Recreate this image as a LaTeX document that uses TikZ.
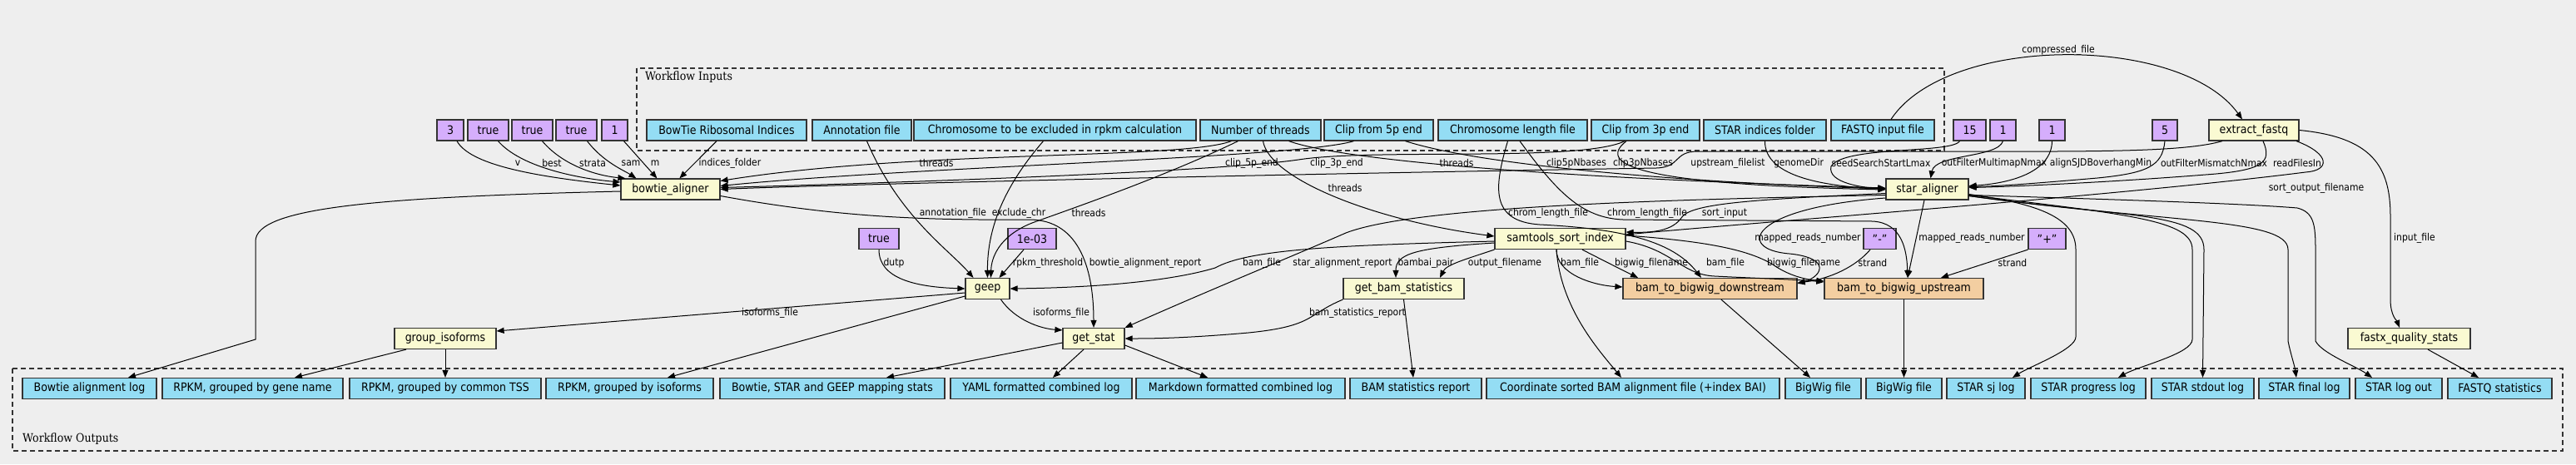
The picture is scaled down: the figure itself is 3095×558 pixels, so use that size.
\documentclass[tikz,border=0pt]{standalone}
\usepackage{fontspec}
\setmainfont{DejaVu Sans Condensed}
\newfontfamily\wftitle{DejaVu Serif Condensed}
\usetikzlibrary{arrows.meta}
\definecolor{canvas}{HTML}{EEEEEE}
\definecolor{inblue}{HTML}{94DDF4}
\definecolor{parpurple}{HTML}{D5AEFC}
\definecolor{stepyellow}{HTML}{FAFAD2}
\definecolor{subpeach}{HTML}{F3CEA1}
\newcommand{\wfnode}{\fontsize{14}{16}\selectfont}
\newcommand{\wflabel}{\fontsize{12}{14}\selectfont}

\begin{document}
\begin{tikzpicture}[
    x=1pt, y=1pt,
    box/.style={draw=black!80, line width=1.2pt, minimum height=25pt, inner sep=0pt, font=\wfnode},
    inbox/.style={box, fill=inblue},
    outbox/.style={box, fill=inblue},
    parbox/.style={box, fill=parpurple},
    stepbox/.style={box, fill=stepyellow},
    subbox/.style={box, fill=subpeach},
    lbl/.style={inner sep=0pt, font=\wflabel},
    flow/.style={draw, line width=1pt, -{Triangle[length=9pt,width=7pt]}},
    group/.style={draw=black!80, dashed, dash pattern=on 6pt off 4pt, line width=1.2pt}
  ]

\fill[canvas] (0,0) rectangle (3095,-558);
\useasboundingbox (0,0) rectangle (3095,-558);

% Workflow Inputs / Outputs clusters
\draw[group] (765,-82) rectangle (2336,-181);
\node[anchor=west, inner sep=0pt, font=\wftitle\fontsize{14}{16}\selectfont] (tin) at (775,-93) {Workflow Inputs};
\draw[group] (15,-443) rectangle (3079,-542);
\node[anchor=west, inner sep=0pt, font=\wftitle\fontsize{14}{16}\selectfont] (tout) at (27,-528) {Workflow Outputs};

% top row
\node[parbox, minimum width=32pt] (pv) at (541,-156.5) {3};
\node[parbox, minimum width=49pt] (pbest) at (586.5,-156.5) {true};
\node[parbox, minimum width=49pt] (pstrata) at (639.5,-156.5) {true};
\node[parbox, minimum width=49pt] (psam) at (692.5,-156.5) {true};
\node[parbox, minimum width=31pt] (pm) at (738.5,-156.5) {1};
\node[inbox, minimum width=192pt] (bri) at (873,-156.5) {BowTie Ribosomal Indices};
\node[inbox, minimum width=119pt] (ann) at (1035.5,-156.5) {Annotation file};
\node[inbox, minimum width=339pt] (exc) at (1267.5,-156.5) {Chromosome to be excluded in rpkm calculation};
\node[inbox, minimum width=145pt] (thr) at (1514.5,-156.5) {Number of threads};
\node[inbox, minimum width=131pt] (c5) at (1656.5,-156.5) {Clip from 5p end};
\node[inbox, minimum width=179pt] (chr) at (1817.5,-156.5) {Chromosome length file};
\node[inbox, minimum width=130pt] (c3) at (1977,-156.5) {Clip from 3p end};
\node[inbox, minimum width=147pt] (sid) at (2120.5,-156.5) {STAR indices folder};
\node[inbox, minimum width=124pt] (fq) at (2262,-156.5) {FASTQ input file};
\node[parbox, minimum width=39pt] (pseed) at (2366.5,-156.5) {15};
\node[parbox, minimum width=31pt] (pmulti) at (2406.5,-156.5) {1};
\node[parbox, minimum width=31pt] (psjdb) at (2465.5,-156.5) {1};
\node[parbox, minimum width=30pt] (pmis) at (2601,-156.5) {5};
\node[stepbox, minimum width=108pt] (ext) at (2708,-156.5) {extract\_fastq};

% steps
\node[stepbox, minimum width=119pt] (bowtie) at (805.5,-227.5) {bowtie\_aligner};
\node[stepbox, minimum width=99pt] (star) at (2315.5,-227.5) {star\_aligner};
\node[parbox, minimum width=48pt] (pdutp) at (1056,-287) {true};
\node[parbox, minimum width=58pt] (prpkm) at (1240,-287) {1e-03};
\node[stepbox, minimum width=157pt] (sam) at (1874.5,-287) {samtools\_sort\_index};
\node[parbox, minimum width=39pt] (pminus) at (2258.5,-287) {"-"};
\node[parbox, minimum width=45pt] (pplus) at (2459.5,-287) {"+"};
\node[stepbox, minimum width=53pt] (geep) at (1186.5,-347) {geep};
\node[stepbox, minimum width=145pt] (gbs) at (1686.5,-347) {get\_bam\_statistics};
\node[subbox, minimum width=209pt] (b2bd) at (2054.5,-347) {bam\_to\_bigwig\_downstream};
\node[subbox, minimum width=191pt] (b2bu) at (2287.5,-347) {bam\_to\_bigwig\_upstream};
\node[stepbox, minimum width=122pt] (grp) at (535,-407) {group\_isoforms};
\node[stepbox, minimum width=74pt] (gst) at (1314,-407) {get\_stat};
\node[stepbox, minimum width=147pt] (fastx) at (2894.5,-407) {fastx\_quality\_stats};

% outputs
\node[outbox, minimum width=161pt] (o1) at (107.5,-467) {Bowtie alignment log};
\node[outbox, minimum width=217pt] (o2) at (303.5,-467) {RPKM, grouped by gene name};
\node[outbox, minimum width=230pt] (o3) at (535,-467) {RPKM, grouped by common TSS};
\node[outbox, minimum width=201pt] (o4) at (756.5,-467) {RPKM, grouped by isoforms};
\node[outbox, minimum width=270pt] (o5) at (1000,-467) {Bowtie, STAR and GEEP mapping stats};
\node[outbox, minimum width=218pt] (o6) at (1251,-467) {YAML formatted combined log};
\node[outbox, minimum width=251pt] (o7) at (1490.5,-467) {Markdown formatted combined log};
\node[outbox, minimum width=158pt] (o8) at (1701,-467) {BAM statistics report};
\node[outbox, minimum width=352pt] (o9) at (1962,-467) {Coordinate sorted BAM alignment file (+index BAI)};
\node[outbox, minimum width=91pt] (o10) at (2190.5,-467) {BigWig file};
\node[outbox, minimum width=91pt] (o11) at (2287.5,-467) {BigWig file};
\node[outbox, minimum width=94pt] (o12) at (2386,-467) {STAR sj log};
\node[outbox, minimum width=138pt] (o13) at (2509,-467) {STAR progress log};
\node[outbox, minimum width=123pt] (o14) at (2646.5,-467) {STAR stdout log};
\node[outbox, minimum width=109pt] (o15) at (2768.5,-467) {STAR final log};
\node[outbox, minimum width=104pt] (o16) at (2882,-467) {STAR log out};
\node[outbox, minimum width=125pt] (o17) at (3003.5,-467) {FASTQ statistics};

% bowtie_aligner inputs
\draw[flow] ([xshift=8pt]pv.south) .. controls (565,-198) and (640,-212) .. ([yshift=4.5pt]bowtie.west);
\draw[flow] ([xshift=12pt]pbest.south) .. controls (625,-200) and (690,-214) .. ([yshift=8.5pt]bowtie.west);
\draw[flow] ([xshift=12pt]pstrata.south) .. controls (680,-203) and (725,-212) .. ([xshift=6pt]bowtie.north west);
\draw[flow] ([xshift=13pt]psam.south) .. controls (725,-195) and (750,-205) .. ([xshift=19pt]bowtie.north west);
\draw[flow] ([xshift=11pt]pm.south) -- ([xshift=44pt]bowtie.north west);
\draw[flow] ([xshift=-12pt]bri.south) -- ([xshift=71pt]bowtie.north west);
\draw[flow] ([xshift=-35pt]thr.south) .. controls (1420,-192) and (1100,-180) .. ([yshift=10pt]bowtie.east);
\draw[flow] ([xshift=-30pt]c5.south) .. controls (1560,-190) and (1100,-200) .. ([yshift=4pt]bowtie.east);
\draw[flow] ([xshift=-25pt]c3.south) .. controls (1900,-195) and (1650,-178) .. (1560,-192) .. controls (1450,-208) and (1000,-222) .. ([yshift=2pt]bowtie.east);
\draw[flow] ([xshift=-38pt]ext.south) .. controls (2620,-184) and (2500,-182) .. (2300,-182) -- (2040,-182) .. controls (2010,-182) and (2020,-201) .. (1990,-202) .. controls (1500,-210) and (1000,-222) .. (bowtie.east);

% star_aligner inputs
\draw[flow] ([xshift=34pt]thr.south) .. controls (1620,-195) and (1900,-215) .. ([yshift=1.5pt]star.west);
\draw[flow] ([xshift=32pt]c5.south) .. controls (1800,-205) and (2100,-222) .. ([yshift=0.5pt]star.west);
\draw[flow] ([xshift=-23pt]c3.south) .. controls (1915,-200) and (1980,-222) .. ([yshift=-0.5pt]star.west);
\draw[flow] (sid.south) .. controls (2120,-215) and (2200,-224) .. (star.west);
\draw[flow] ([xshift=-12pt]pseed.south) .. controls (2345,-185) and (2215,-175) .. (2200,-200) .. controls (2195,-220) and (2240,-226) .. ([yshift=1pt]star.west);
\draw[flow] (pmulti.south) .. controls (2400,-190) and (2325,-185) .. ([xshift=4pt]star.north);
\draw[flow] (psjdb.south) .. controls (2465,-205) and (2420,-220) .. ([yshift=4pt]star.east);
\draw[flow] (pmis.south) .. controls (2598,-200) and (2580,-208) .. (2520,-214) .. controls (2450,-220) and (2400,-224) .. ([yshift=3pt]star.east);
\draw[flow] ([xshift=11pt]ext.south) .. controls (2730,-195) and (2720,-205) .. (2650,-210) .. controls (2550,-218) and (2430,-224) .. ([yshift=2pt]star.east);
\draw[flow] ([xshift=10pt]fq.north) .. controls (2340,-41) and (2620,-41) .. ([xshift=-14pt]ext.north);

% samtools_sort_index inputs
\draw[flow] ([xshift=3pt]thr.south) .. controls (1525,-215) and (1650,-265) .. ([yshift=3pt]sam.west);
\draw[flow] ([yshift=-5pt]star.west) .. controls (2100,-240) and (2030,-245) .. (2020,-262) .. controls (2010,-276) and (1990,-280) .. ([yshift=8pt]sam.east);
\draw[flow] ([xshift=51pt]ext.south) .. controls (2800,-185) and (2800,-205) .. (2770,-207) .. controls (2550,-235) and (2100,-268) .. ([yshift=5pt]sam.east);

% geep inputs
\draw[flow] ([xshift=6pt]ann.south) .. controls (1080,-260) and (1140,-300) .. ([xshift=-17pt]geep.north);
\draw[flow] ([xshift=-14pt]exc.south) .. controls (1210,-220) and (1186,-270) .. (geep.north);
\draw[flow] ([xshift=-27pt]thr.south) .. controls (1400,-212) and (1290,-250) .. (1240,-268) .. controls (1200,-284) and (1191,-310) .. ([xshift=4pt]geep.north);
\draw[flow] (pdutp.south) .. controls (1056,-335) and (1100,-345) .. (geep.west);
\draw[flow] ([xshift=-10pt]prpkm.south) -- ([xshift=14pt]geep.north);
\draw[flow] ([yshift=-3pt]sam.west) .. controls (1600,-295) and (1500,-300) .. (1460,-322) .. controls (1400,-340) and (1300,-346) .. (geep.east);

% get_stat and get_bam_statistics inputs
\draw[flow] ([yshift=-8pt]bowtie.east) .. controls (1000,-260) and (1100,-265) .. (1235,-264) .. controls (1300,-263) and (1314,-330) .. (gst.north);
\draw[flow] ([xshift=16pt]geep.south) .. controls (1220,-385) and (1250,-395) .. ([yshift=-3pt]gst.north west);
\draw[flow] ([yshift=-7pt]star.west) .. controls (2000,-240) and (1700,-248) .. (1617,-280) .. controls (1560,-305) and (1450,-350) .. (gst.north east);
\draw[flow] (gbs.south west) .. controls (1570,-378) and (1580,-392) .. (1500,-400) .. controls (1420,-407) and (1380,-407) .. (gst.east);
\draw[flow] ([yshift=-5pt]sam.west) .. controls (1700,-298) and (1677,-305) .. ([xshift=-9.5pt]gbs.north);
\draw[flow] (sam.south west) .. controls (1760,-312) and (1738,-318) .. ([xshift=43.5pt]gbs.north);

% bam_to_bigwig inputs
\draw[flow] ([xshift=-4.5pt]sam.south) .. controls (1870,-330) and (1915,-343) .. ([yshift=2pt]b2bd.west);
\draw[flow] ([xshift=26.5pt]sam.south) .. controls (1930,-315) and (1950,-325) .. ([xshift=-86.5pt]b2bd.north);
\draw[flow] ([xshift=-6pt]chr.south) .. controls (1795,-225) and (1790,-266) .. (1850,-270) .. controls (1950,-275) and (2010,-290) .. ([xshift=-10.5pt]b2bd.north);
\draw[flow] ([yshift=-10.5pt]star.west) .. controls (2100,-250) and (2085,-300) .. (2150,-305) .. controls (2200,-310) and (2190,-332) .. ([yshift=6pt]b2bd.east);
\draw[flow] ([xshift=-11.5pt]pminus.south) .. controls (2230,-320) and (2200,-335) .. ([yshift=7pt]b2bd.east);
\draw[flow] ([xshift=8.5pt]chr.south) .. controls (1870,-230) and (1900,-262) .. (1950,-264) -- (2250,-266) .. controls (2285,-268) and (2291,-300) .. ([xshift=4.5pt]b2bu.north);
\draw[flow] ([xshift=-3.5pt]star.south) -- ([xshift=4.5pt]b2bu.north);
\draw[flow] ([xshift=-23pt]pplus.south) -- ([xshift=44.5pt]b2bu.north);
\draw[flow] ([yshift=-3pt]sam.east) .. controls (2010,-300) and (2020,-330) .. (2060,-332) .. controls (2120,-335) and (2160,-336) .. ([yshift=8pt]b2bu.west);
\draw[flow] ([yshift=4pt]sam.east) .. controls (2050,-290) and (2100,-300) .. (2130,-318) .. controls (2150,-332) and (2170,-336) .. ([yshift=9pt]b2bu.west);

% fastx_quality_stats input
\draw[flow] (ext.east) .. controls (2850,-165) and (2872,-200) .. (2872,-260) -- (2872,-360) .. controls (2872,-380) and (2880,-386) .. ([xshift=-11.5pt]fastx.north);

% workflow outputs
\draw[flow] ([yshift=-2.5pt]bowtie.west) .. controls (450,-237) and (307,-250) .. (307,-290) -- (307,-408) -- ([xshift=46.5pt]o1.north);
\draw[flow] ([yshift=-5pt]geep.west) -- ([yshift=9pt]grp.east);
\draw[flow] ([xshift=-47pt]grp.south) -- ([xshift=50.5pt]o2.north);
\draw[flow] (grp.south) -- (o3.north);
\draw[flow] ([yshift=-9pt]geep.west) -- ([xshift=45.5pt]o4.north);
\draw[flow] ([yshift=-5pt]gst.west) -- ([xshift=65pt]o5.north);
\draw[flow] ([xshift=-12pt]gst.south) -- ([xshift=14pt]o6.north);
\draw[flow] ([yshift=-8pt]gst.east) -- ([xshift=-39.5pt]o7.north);
\draw[flow] (gbs.south) -- ([xshift=-3pt]o8.north);
\draw[flow] ([xshift=-4.5pt]sam.south) .. controls (1875,-370) and (1920,-420) .. ([xshift=-14pt]o9.north);
\draw[flow] ([xshift=13.5pt]b2bd.south) -- ([xshift=-15.5pt]o10.north);
\draw[flow] (b2bu.south) -- (o11.north);
\draw[flow] ([yshift=-6pt]star.east) .. controls (2450,-245) and (2494,-262) .. (2494,-300) -- (2494,-405) .. controls (2494,-420) and (2440,-440) .. ([xshift=32pt]o12.north);
\draw[flow] ([yshift=-7pt]star.east) .. controls (2560,-258) and (2634,-265) .. (2634,-300) -- (2634,-408) .. controls (2634,-425) and (2570,-440) .. ([xshift=36pt]o13.north);
\draw[flow] ([yshift=-8pt]star.east) .. controls (2560,-262) and (2648,-255) .. (2648,-300) -- (o14.north);
\draw[flow] ([yshift=-8pt]star.east) .. controls (2600,-268) and (2749,-262) .. (2749,-300) -- (2749,-410) .. controls (2752,-425) and (2757,-440) .. ([xshift=-9.5pt]o15.north);
\draw[flow] ([yshift=-7pt]star.east) .. controls (2550,-240) and (2700,-245) .. (2760,-250) .. controls (2780,-255) and (2782,-270) .. (2782,-300) -- (2782,-410) .. controls (2790,-425) and (2830,-440) .. ([xshift=-32pt]o16.north);
\draw[flow] ([xshift=22.5pt]fastx.south) -- ([xshift=-25.5pt]o17.north);

% edge labels
\node[lbl] (l-v) at (622,-196) {v};
\node[lbl] (l-best) at (663,-196) {best};
\node[lbl] (l-strata) at (712,-196) {strata};
\node[lbl] (l-sam) at (758,-196) {sam};
\node[lbl] (l-m) at (787,-196) {m};
\node[lbl] (l-idx) at (877,-196) {indices\_folder};
\node[lbl] (l-bthr) at (1125,-196) {threads};
\node[lbl] (l-bc5) at (1504,-196) {clip\_5p\_end};
\node[lbl] (l-bc3) at (1606,-196) {clip\_3p\_end};
\node[lbl] (l-sthr) at (1750,-196) {threads};
\node[lbl] (l-sc5) at (1894,-196) {clip5pNbases};
\node[lbl] (l-sc3) at (1974,-196) {clip3pNbases};
\node[lbl] (l-up) at (2076,-196) {upstream\_filelist};
\node[lbl] (l-gd) at (2161,-196) {genomeDir};
\node[lbl] (l-seed) at (2260,-196) {seedSearchStartLmax};
\node[lbl] (l-multi) at (2396,-196) {outFilterMultimapNmax};
\node[lbl] (l-sjdb) at (2524,-196) {alignSJDBoverhangMin};
\node[lbl] (l-mis) at (2660,-196) {outFilterMismatchNmax};
\node[lbl] (l-rfi) at (2760,-196) {readFilesIn};
\node[lbl] (l-cf) at (2473,-60) {compressed\_file};
\node[lbl] (l-tthr) at (1616,-226) {threads};
\node[lbl] (l-sof) at (2783,-226) {sort\_output\_filename};
\node[lbl] (l-ann) at (1145,-256) {annotation\_file};
\node[lbl] (l-exc) at (1224,-256) {exclude\_chr};
\node[lbl] (l-gthr) at (1308,-256) {threads};
\node[lbl] (l-cl1) at (1860,-256) {chrom\_length\_file};
\node[lbl] (l-cl2) at (1979,-256) {chrom\_length\_file};
\node[lbl] (l-si) at (2072,-256) {sort\_input};
\node[lbl] (l-mr1) at (2172,-286) {mapped\_reads\_number};
\node[lbl] (l-mr2) at (2369,-286) {mapped\_reads\_number};
\node[lbl] (l-in) at (2901,-286) {input\_file};
\node[lbl] (l-dutp) at (1074,-316) {dutp};
\node[lbl] (l-rpkm) at (1259,-316) {rpkm\_threshold};
\node[lbl] (l-bar) at (1376,-316) {bowtie\_alignment\_report};
\node[lbl] (l-gbam) at (1516,-316) {bam\_file};
\node[lbl] (l-sar) at (1613,-316) {star\_alignment\_report};
\node[lbl] (l-bbp) at (1713,-316) {bambai\_pair};
\node[lbl] (l-of) at (1808,-316) {output\_filename};
\node[lbl] (l-dbam) at (1898,-316) {bam\_file};
\node[lbl] (l-dbw) at (1984,-316) {bigwig\_filename};
\node[lbl] (l-ubam) at (2073,-316) {bam\_file};
\node[lbl] (l-ubw) at (2167,-316) {bigwig\_filename};
\node[lbl] (l-dstr) at (2250,-316) {strand};
\node[lbl] (l-ustr) at (2418,-316) {strand};
\node[lbl] (l-iso1) at (925,-376) {isoforms\_file};
\node[lbl] (l-iso2) at (1275,-376) {isoforms\_file};
\node[lbl] (l-bsr) at (1631,-376) {bam\_statistics\_report};

\end{tikzpicture}
\end{document}
